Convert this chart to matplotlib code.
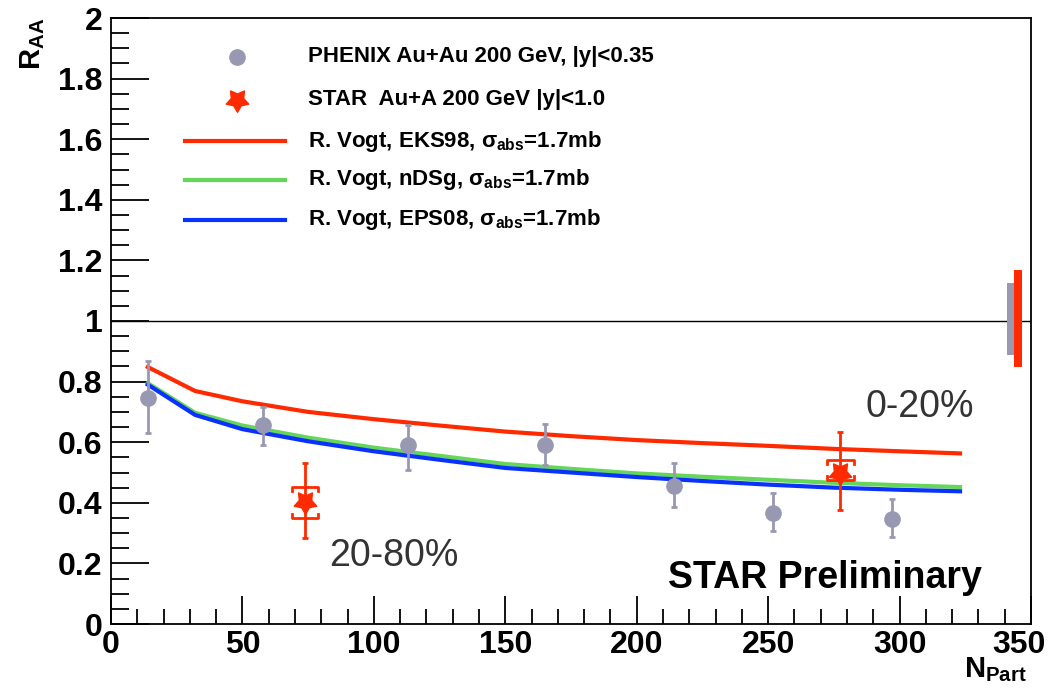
import numpy as np
import matplotlib
matplotlib.use("Agg")
import matplotlib.pyplot as plt
import matplotlib.transforms as mtransforms
from matplotlib.lines import Line2D
from matplotlib.path import Path

plt.rcParams['font.family'] = ['Liberation Sans', 'DejaVu Sans']
plt.rcParams['mathtext.fontset'] = 'custom'
plt.rcParams['mathtext.rm'] = 'Liberation Sans:bold'
plt.rcParams['mathtext.bf'] = 'Liberation Sans:bold'
plt.rcParams['mathtext.it'] = 'Liberation Sans:bold'

# PHENIX Au+Au, |y|<0.35
phx_x = [14, 58, 113, 165, 214, 252, 297]
phx_y = [0.746, 0.657, 0.591, 0.591, 0.455, 0.366, 0.347]
phx_hi = [0.868, 0.716, 0.657, 0.660, 0.531, 0.432, 0.413]
phx_lo = [0.630, 0.591, 0.508, 0.525, 0.386, 0.307, 0.287]

# STAR Au+Au, |y|<1.0 (20-80%, 0-20%)
star_x = [73.8, 277.5]
star_y = [0.403, 0.500]
star_hi = [0.531, 0.634]
star_lo = [0.284, 0.376]
star_sys_hi = [0.452, 0.541]
star_sys_lo = [0.350, 0.475]

# R. Vogt curves
vogt_x = [14, 32, 50, 75, 100, 125, 150, 175, 200, 225, 250, 275, 300, 323]
eks98 = [0.848, 0.769, 0.735, 0.700, 0.676, 0.655, 0.635, 0.620, 0.607, 0.597, 0.588, 0.578, 0.570, 0.563]
ndsg = [0.795, 0.697, 0.655, 0.615, 0.582, 0.555, 0.528, 0.512, 0.497, 0.486, 0.476, 0.466, 0.458, 0.452]
eps08 = [0.790, 0.690, 0.643, 0.603, 0.570, 0.542, 0.515, 0.500, 0.485, 0.472, 0.460, 0.450, 0.443, 0.438]

# global uncertainty boxes at R=1
glob_x = [340.8, 343.5]
glob_w = [2.7, 3.0]
glob_lo = [0.888, 0.848]
glob_hi = [1.125, 1.168]

red = '#ff2a00'
green = '#66d65a'
blue = '#0a32ff'
gray = '#9898b2'

# fat ROOT-like five-point star (points down, like the original)
ang = np.pi / 2 + np.arange(10) * np.pi / 5 + np.pi
rad = np.where(np.arange(10) % 2 == 0, 1.0, 0.55)
verts = np.column_stack([rad * np.cos(ang), rad * np.sin(ang)])
verts = np.vstack([verts, verts[:1]])
star_marker = Path(verts, closed=True)

fig = plt.figure(figsize=(10.53, 6.91), dpi=100)
ax = fig.add_axes([111/1053, 1-624/691, 920/1053, 606/691])

ax.axhline(1.0, color='black', lw=1.0, zorder=1)

ax.plot(vogt_x, eks98, color=red, lw=3, zorder=2)
ax.plot(vogt_x, ndsg, color=green, lw=3, zorder=2)
ax.plot(vogt_x, eps08, color=blue, lw=3, zorder=2)

py = np.array(phx_y)
ax.errorbar(phx_x, phx_y, yerr=[py - np.array(phx_lo), np.array(phx_hi) - py],
            fmt='o', color=gray, ms=11, elinewidth=2, capsize=2.5, capthick=2, zorder=3)

sy = np.array(star_y)
ax.errorbar(star_x, star_y, yerr=[sy - np.array(star_lo), np.array(star_hi) - sy],
            fmt='none', ecolor=red, elinewidth=2, capsize=2.5, capthick=2, zorder=4)
ax.plot(star_x, star_y, ls='none', marker=star_marker, ms=17, color=red, zorder=5)

# systematic brackets
bw, bh = 5.0, 0.012
for x, lo, hi in zip(star_x, star_sys_lo, star_sys_hi):
    ax.plot([x - bw, x - bw, x + bw, x + bw], [hi - bh, hi, hi, hi - bh], color=red, lw=2, zorder=4)
    ax.plot([x - bw, x - bw, x + bw, x + bw], [lo + bh, lo, lo, lo + bh], color=red, lw=2, zorder=4)

ax.bar(glob_x, np.array(glob_hi) - np.array(glob_lo), width=glob_w, bottom=glob_lo,
       align='edge', color=[gray, red], zorder=3)

ax.set_xlim(0, 350)
ax.set_ylim(0, 2)
ax.set_xticks(np.arange(0, 351, 50))
ax.set_xticks(np.arange(0, 351, 10), minor=True)
ax.set_yticks(np.arange(0, 2.01, 0.2))
ax.set_yticks(np.arange(0, 2.001, 0.05), minor=True)
ax.set_xticklabels(['0', '50', '100', '150', '200', '250', '300', '350'])
ax.set_yticklabels(['0', '0.2', '0.4', '0.6', '0.8', '1', '1.2', '1.4', '1.6', '1.8', '2'])
ax.tick_params(axis='both', which='both', direction='in', top=False, right=False,
               labelsize=23, width=1.3)
ax.tick_params(axis='y', which='major', length=27, pad=6)
ax.tick_params(axis='y', which='minor', length=13)
ax.tick_params(axis='x', which='major', length=20, pad=4)
ax.tick_params(axis='x', which='minor', length=11)
for lab in ax.get_xticklabels() + ax.get_yticklabels():
    lab.set_fontweight('bold')
# pull the last x label inside the figure, as in the original
last = ax.get_xticklabels()[-1]
last.set_transform(last.get_transform() + mtransforms.ScaledTranslation(-12/100, 0, fig.dpi_scale_trans))
for s in ax.spines.values():
    s.set_linewidth(1.3)

# legend drawn by hand
rows = [0.936, 0.865, 0.797, 0.733, 0.667]
ax.add_line(Line2D([0.137], [rows[0]], marker='o', ms=11, color=gray, transform=ax.transAxes))
ax.add_line(Line2D([0.137], [rows[1]], marker=star_marker, ms=17, color=red, transform=ax.transAxes))
for r, c in zip(rows[2:], [red, green, blue]):
    ax.add_line(Line2D([0.080, 0.189], [r, r], color=c, lw=3, transform=ax.transAxes))
labels = ['PHENIX Au+Au 200 GeV, |y|<0.35',
          'STAR  Au+A 200 GeV |y|<1.0',
          r'R. Vogt, EKS98, $\sigma_{\mathrm{abs}}$=1.7mb',
          r'R. Vogt, nDSg, $\sigma_{\mathrm{abs}}$=1.7mb',
          r'R. Vogt, EPS08, $\sigma_{\mathrm{abs}}$=1.7mb']
for r, t in zip(rows, labels):
    ax.text(0.214, r, t, transform=ax.transAxes, fontsize=16, fontweight='bold',
            va='center', ha='left')

ax.text(83, 0.225, '20-80%', fontsize=27, color='#333333', va='center', ha='left')
ax.text(287, 0.716, '0-20%', fontsize=27, color='#333333', va='center', ha='left')
ax.text(212, 0.152, 'STAR Preliminary', fontsize=27, fontweight='bold', va='center', ha='left')

fig.text(33/1053, 1-18/691, r'R$_{\mathrm{AA}}$', rotation=90, fontsize=21, fontweight='bold',
         ha='center', va='top')
fig.text(1027/1053, 1-655/691, r'N$_{\mathrm{Part}}$', fontsize=21, fontweight='bold',
         ha='right', va='top')

fig.savefig('out.png', dpi=100)
